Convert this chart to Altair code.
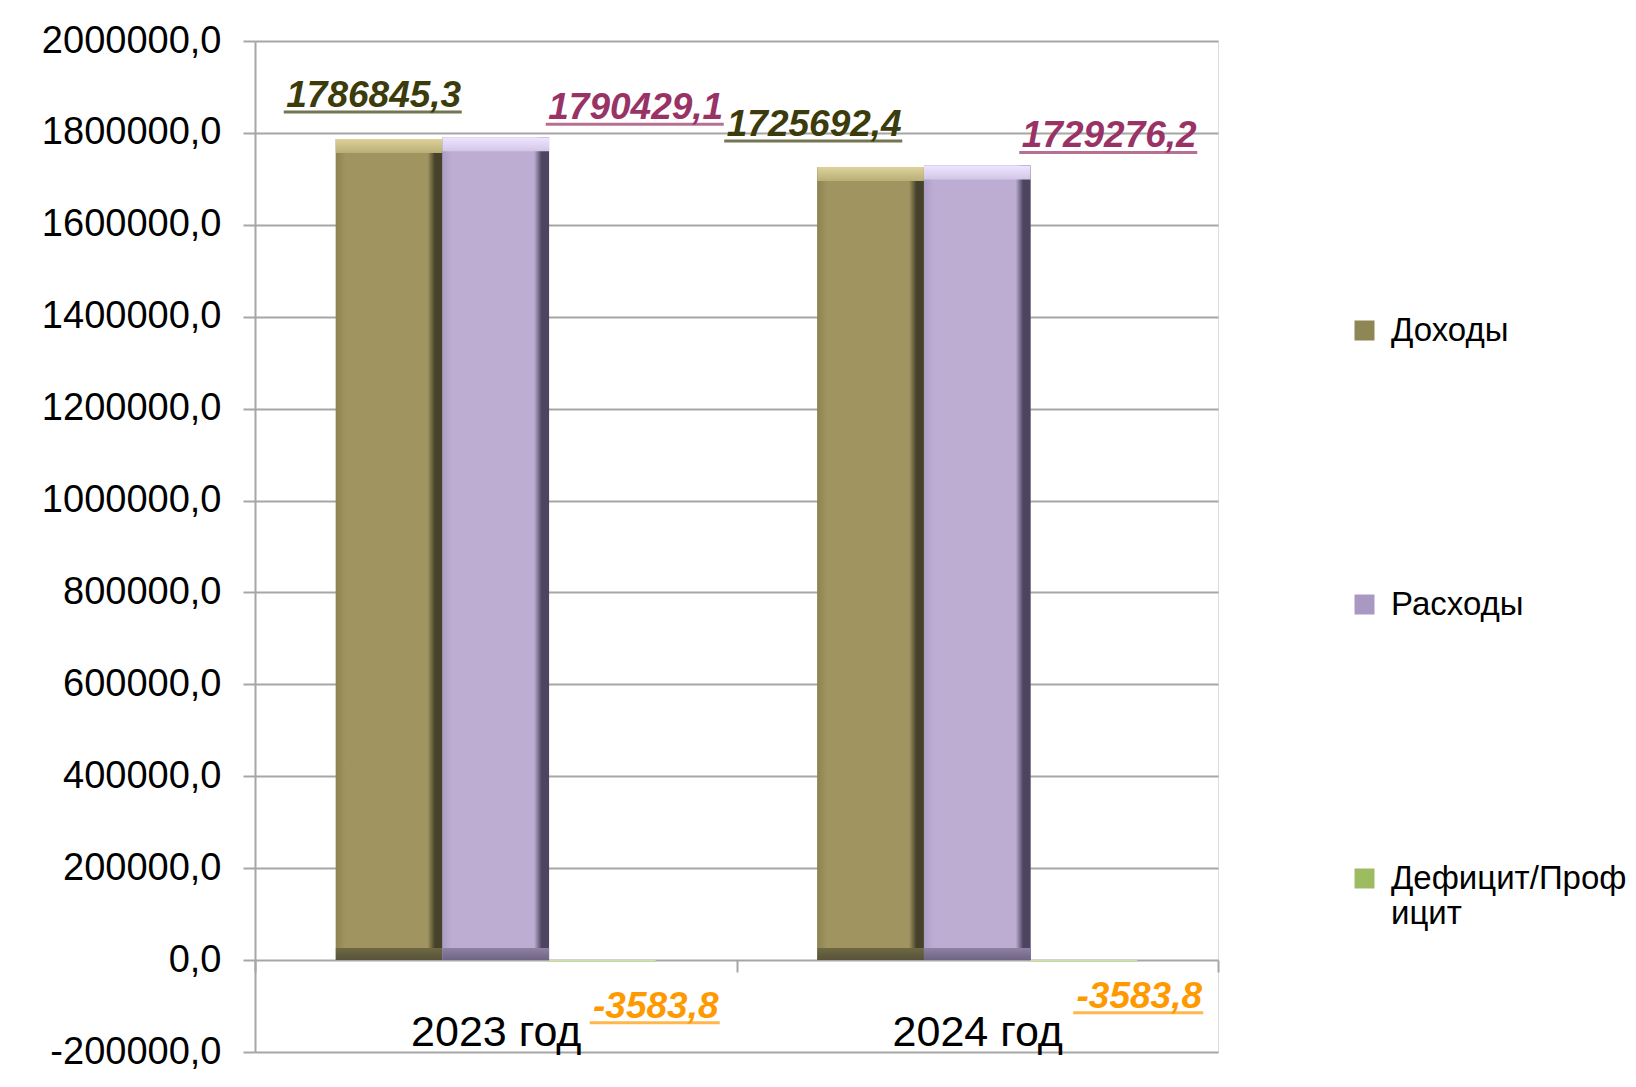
import altair as alt
import pandas as pd

# ---- data ----
years = ["2023 год", "2024 год"]
series = ["Доходы", "Расходы", "Дефицит/Профицит"]
values_2023 = [1786845.3, 1790429.1, -3583.8]
values_2024 = [1725692.4, 1729276.2, -3583.8]
y_ticks = [-200000, 0, 200000, 400000, 600000, 800000, 1000000,
           1200000, 1400000, 1600000, 1800000, 2000000]

rows = []
for s, v in zip(series, values_2023):
    rows.append({"year": years[0], "series": s, "value": v})
for s, v in zip(series, values_2024):
    rows.append({"year": years[1], "series": s, "value": v})
df = pd.DataFrame(rows)

# ---- styles ----
FONT = "Liberation Sans"
legend_colors = ["#8f8655", "#a898c2", "#9dbc62"]
label_colors = {"Доходы": "#3b3b0b", "Расходы": "#993366", "Дефицит/Профицит": "#ff9900"}
bevel = {
    "Доходы": dict(left="#8c8350", face="#a09560", right="#45412a",
                   top1="#ddd39a", top2="#b8ae76", bot1="#6e6843", bot2="#57523a"),
    "Расходы": dict(left="#ad9ec6", face="#bdadd3", right="#4d4560",
                    top1="#f0e6ff", top2="#d2c6e6", bot1="#8e81a3", bot2="#6f6484"),
}
# label offsets relative to the year band centre / value position (px)
label_pos = {
    ("Доходы", years[0]): (-122, -32, 178),
    ("Доходы", years[1]): (-163, -31, 178),
    ("Расходы", years[0]): (140, -18, 178),
    ("Расходы", years[1]): (132, -18, 178),
    ("Дефицит/Профицит", years[0]): (160, 56, 130),
    ("Дефицит/Профицит", years[1]): (162, 46, 130),
}

grid_gray = "#a6a6a6"
y_label_expr = "replace(replace(format(datum.value, '.1f'), '.', ','), '−', '-')"

x_enc = alt.X("year:N", sort=years,
              scale=alt.Scale(paddingInner=0, paddingOuter=0),
              axis=alt.Axis(orient="bottom", offset=-92, tickBand="extent", tickSize=12,
                            tickColor=grid_gray, tickWidth=2, domain=False, grid=False,
                            labelFontSize=43, labelColor="black", labelFont=FONT,
                            labelBaseline="alphabetic", labelPadding=73, labelAngle=0,
                            title=None))
xo_enc = alt.XOffset("series:N", sort=series,
                     scale=alt.Scale(paddingInner=0, paddingOuter=0.758))
y_scale = alt.Scale(domain=[-200000, 2000000], nice=False, zero=False)
y_enc = alt.Y("value:Q", scale=y_scale,
              axis=alt.Axis(values=y_ticks, labelExpr=y_label_expr, labelFontSize=38,
                            labelColor="black", labelFont=FONT, labelPadding=22,
                            tickSize=12, tickColor=grid_gray, tickWidth=2,
                            domainColor=grid_gray, domainWidth=2,
                            gridColor=grid_gray, gridWidth=2, title=None))

base = alt.Chart(df)

bars = base.mark_bar(strokeWidth=0).encode(
    x=x_enc, xOffset=xo_enc, y=y_enc, y2=alt.datum(0),
    color=alt.Color("series:N", sort=series,
                    scale=alt.Scale(domain=series, range=legend_colors),
                    legend=alt.Legend(orient="none", legendX=1093, legendY=273,
                                      title=None, labelFontSize=33, labelFont=FONT,
                                      labelColor="black", labelOffset=10,
                                      symbolType="square", symbolSize=400,
                                      symbolStrokeWidth=0, rowPadding=240, padding=0,
                                      labelLimit=400,
                                      labelExpr="datum.label == 'Дефицит/Профицит' ? ['Дефицит/Проф', 'ицит'] : datum.label")),
)

layers = [bars]

# deficit bar (light green)
layers.append(
    base.transform_filter(alt.datum.series == series[2]).mark_bar(color="#cfe0ae", strokeWidth=0)
    .encode(x=x_enc, xOffset=xo_enc, y="value:Q", y2=alt.datum(0))
)

# bevelled bars
for s, b in bevel.items():
    sub = base.transform_filter(alt.datum.series == s).transform_calculate(zero="0")
    face = alt.Gradient(gradient="linear", x1=0, x2=1, y1=0, y2=0, stops=[
        alt.GradientStop(offset=0, color=b["left"]),
        alt.GradientStop(offset=0.09, color=b["face"]),
        alt.GradientStop(offset=0.86, color=b["face"]),
        alt.GradientStop(offset=0.93, color=b["right"]),
        alt.GradientStop(offset=1, color=b["right"]),
    ])
    layers.append(sub.mark_bar(color=face, strokeWidth=0)
                  .encode(x=x_enc, xOffset=xo_enc, y="value:Q", y2="zero:Q"))
    top = alt.Gradient(gradient="linear", x1=0, x2=0, y1=0, y2=1, stops=[
        alt.GradientStop(offset=0, color=b["top1"]),
        alt.GradientStop(offset=1, color=b["top2"]),
    ])
    layers.append(sub.mark_bar(color=top, strokeWidth=0, y2Offset=14)
                  .encode(x=x_enc, xOffset=xo_enc, y="value:Q", y2="value:Q"))
    bot = alt.Gradient(gradient="linear", x1=0, x2=0, y1=0, y2=1, stops=[
        alt.GradientStop(offset=0, color=b["bot1"]),
        alt.GradientStop(offset=1, color=b["bot2"]),
    ])
    layers.append(sub.mark_bar(color=bot, strokeWidth=0, yOffset=-12)
                  .encode(x=x_enc, xOffset=xo_enc, y="zero:Q", y2="zero:Q"))

# data labels with underline
for (s, yr), (dx, dy, ul) in label_pos.items():
    sub = base.transform_filter((alt.datum.series == s) & (alt.datum.year == yr)).transform_calculate(
        label="replace(replace(format(datum.value, '.1f'), '.', ','), '−', '-')")
    layers.append(sub.mark_text(font=FONT, fontSize=37, fontWeight="bold", fontStyle="italic",
                                color=label_colors[s], align="center", baseline="alphabetic",
                                dx=dx, dy=dy)
                  .encode(x=x_enc, y="value:Q", text="label:N"))
    layers.append(sub.mark_tick(color=label_colors[s], size=ul, thickness=3,
                                xOffset=dx - 1, yOffset=dy + 5, orient="horizontal")
                  .encode(x=x_enc, y="value:Q"))

chart = alt.layer(*layers).properties(
    width=963, height=1011, autosize="none",
    padding={"left": 247, "top": 33, "right": 410, "bottom": 27},
    background="white",
).configure_view(stroke=None).configure(font=FONT)

chart.save("out.html", embed_options={"renderer": "svg", "actions": False})
